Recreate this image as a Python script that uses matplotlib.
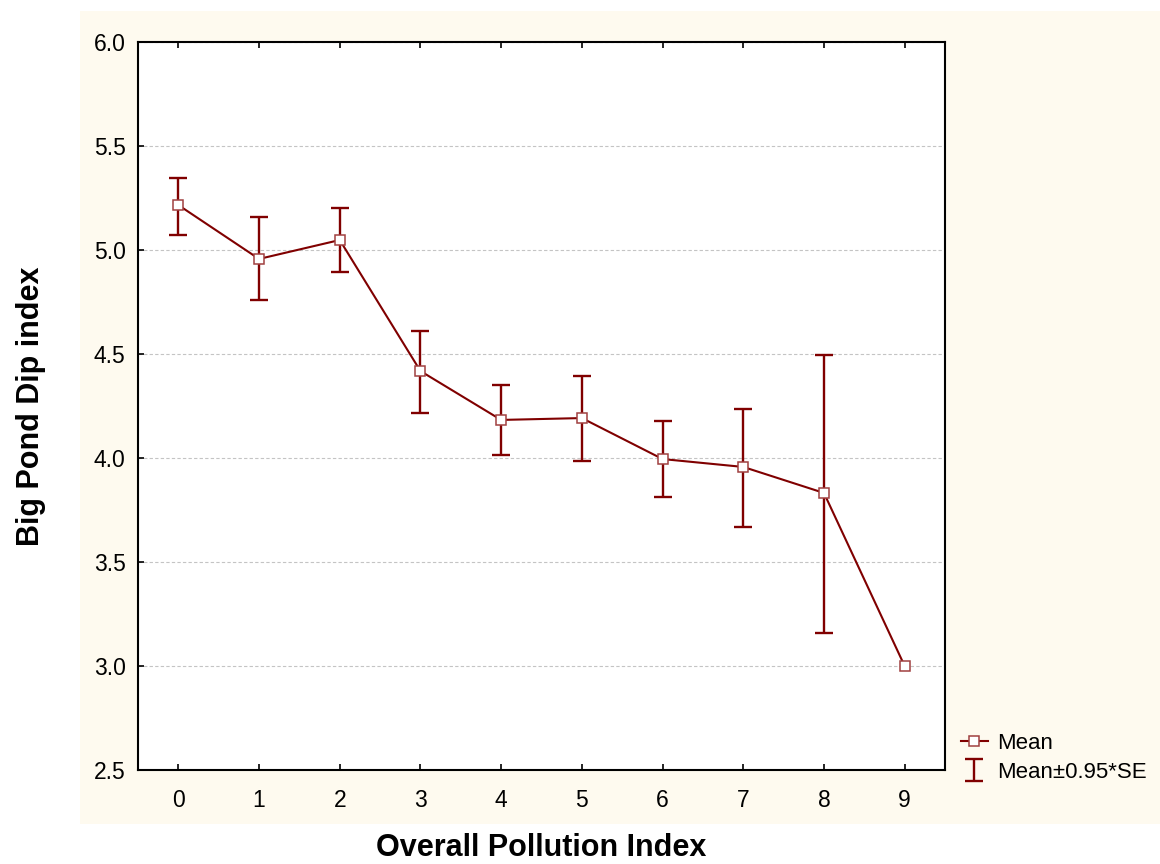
import matplotlib
matplotlib.use("Agg")
import matplotlib.pyplot as plt
from matplotlib.patches import Rectangle

plt.rcParams['font.family'] = ['Liberation Sans', 'DejaVu Sans']

pollution = [0, 1, 2, 3, 4, 5, 6, 7, 8, 9]
mean_dip = [5.216, 4.957, 5.048, 4.418, 4.183, 4.192, 3.995, 3.957, 3.832, 3.0]
upper = [5.346, 5.159, 5.202, 4.611, 4.351, 4.394, 4.178, 4.236, 4.495, None]
lower = [5.072, 4.760, 4.894, 4.216, 4.014, 3.986, 3.813, 3.668, 3.159, None]

red = '#800000'
cream = '#FEFAEF'

fig = plt.figure(figsize=(11.6, 8.64), dpi=100)
fig.patch.set_facecolor('white')
bg = Rectangle((80 / 1160, 40 / 864), 1 - 80 / 1160, (853 - 40) / 864,
               transform=fig.transFigure, facecolor=cream, edgecolor='none', zorder=-5)
fig.add_artist(bg)

ax = fig.add_axes([138 / 1160, 94 / 864, 807 / 1160, 728 / 864])
ax.set_zorder(1)
ax.set_facecolor('white')

# error bars only where a spread exists
idx = [i for i in range(len(pollution)) if upper[i] is not None]
ex = [pollution[i] for i in idx]
ey = [mean_dip[i] for i in idx]
err = [[mean_dip[i] - lower[i] for i in idx], [upper[i] - mean_dip[i] for i in idx]]
eb = ax.errorbar(ex, ey, yerr=err, fmt='none', ecolor=red, elinewidth=1.7,
                 capsize=6.5, capthick=1.7, zorder=3)

line, = ax.plot(pollution, mean_dip, color=red, lw=1.5, marker='s', markersize=7.8,
                markerfacecolor='white', markeredgecolor='#A04040', markeredgewidth=1.1,
                zorder=4)

ax.set_xlim(-0.5, 9.5)
ax.set_ylim(2.5, 6.0)
ax.set_xticks(pollution)
ax.set_yticks([2.5, 3.0, 3.5, 4.0, 4.5, 5.0, 5.5, 6.0])
ax.set_yticklabels(['2.5', '3.0', '3.5', '4.0', '4.5', '5.0', '5.5', '6.0'])
ax.yaxis.grid(True, color='#c4c4c4', linestyle=(0, (3, 2)), lw=0.8)
ax.set_axisbelow(True)

ax.tick_params(axis='x', direction='in', length=4, width=1.2, top=True, pad=14,
               labelsize=16.5)
ax.tick_params(axis='y', direction='in', length=4, width=1.2, pad=9, labelsize=16.5)
for s in ax.spines.values():
    s.set_linewidth(1.5)

ax.set_xlabel('Overall Pollution Index', fontsize=22, fontweight='bold', va='top')
ax.set_ylabel('Big Pond Dip index', fontsize=22, fontweight='bold')
ax.xaxis.set_label_coords(0.5, (770 - 833) / 728)
ax.yaxis.set_label_coords((46 - 138) / 807, 0.5)

handles = [line, eb]
labels = ['Mean', 'Mean±0.95*SE']
ax.legend(handles, labels, loc='lower left', bbox_to_anchor=(950 / 1160, 70 / 864),
          bbox_transform=fig.transFigure, frameon=False, fontsize=16,
          handlelength=1.2, handletextpad=0.4, labelspacing=0.35, borderpad=0)

fig.savefig('out.png', dpi=100)
